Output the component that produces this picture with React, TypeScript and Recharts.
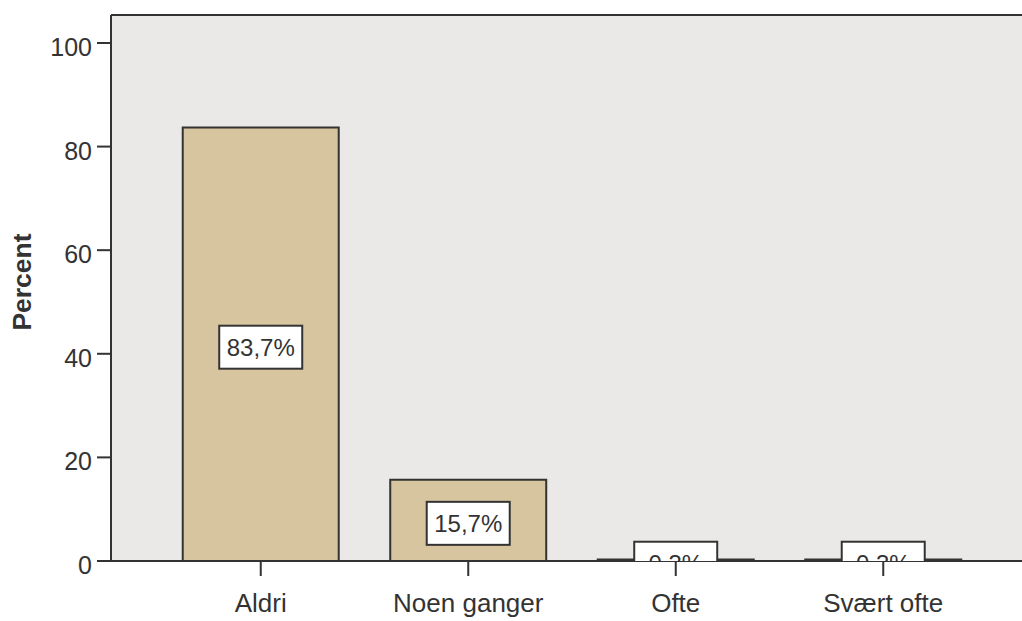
import { BarChart, Bar, XAxis, YAxis, CartesianGrid, ReferenceLine, LabelList } from 'recharts';

const categories = ['Aldri', 'Noen ganger', 'Ofte', 'Svært ofte'];
const percents = [83.7, 15.7, 0.3, 0.3];
const yTicks = [0, 20, 40, 60, 80, 100];
const yMax = 105.4;

const data = categories.map((name, i) => ({ name, percent: percents[i] }));

const INK = '#333333';
const FONT = '"Liberation Sans", Arial, Helvetica, sans-serif';

const YTick = ({ x, y, payload }: any) => (
  <text x={x} y={y + 4} textAnchor="end" dominantBaseline="central" fontSize={25} fill={INK} fontFamily={FONT}>
    {payload.value}
  </text>
);

const XTick = ({ x, y, payload }: any) => (
  <text x={x} y={y} dy="0.71em" textAnchor="middle" fontSize={26} fill={INK} fontFamily={FONT}>
    {payload.value}
  </text>
);

const PercentLabel = ({ viewBox }: any) => {
  const cx = viewBox.x + 22;
  const cy = viewBox.y + viewBox.height / 2 - 6;
  return (
    <text
      x={cx}
      y={cy}
      transform={`rotate(-90, ${cx}, ${cy})`}
      textAnchor="middle"
      dominantBaseline="central"
      fontSize={26.5}
      fontWeight="bold"
      fill={INK}
      fontFamily={FONT}
    >
      Percent
    </text>
  );
};

// boxed value label in the middle of the bar, clipped at the baseline
const BoxLabel = (props: any) => {
  const { x, y, width, height, value, index } = props;
  const cx = x + width / 2;
  const cy = y + height / 2 + 3;
  const base = y + height;
  const id = `lbl-clip-${index}`;
  const w = 83;
  const h = 43;
  return (
    <g>
      <defs>
        <clipPath id={id}>
          <rect x={cx - 100} y={base - 1000} width={200} height={1000} />
        </clipPath>
      </defs>
      <g clipPath={`url(#${id})`}>
        <rect x={cx - w / 2} y={cy - h / 2} width={w} height={h} fill="#ffffff" stroke={INK} strokeWidth={2} />
        <text x={cx} y={cy} textAnchor="middle" dominantBaseline="central" fontSize={24} fill={INK} fontFamily={FONT}>
          {`${Number(value).toFixed(1).replace('.', ',')}%`}
        </text>
      </g>
    </g>
  );
};

export default function App() {
  return (
    <div style={{ position: 'absolute', left: 0, top: 0, width: 1022, height: 621, overflow: 'hidden', background: '#fff' }}>
      <BarChart
        width={1022}
        height={621}
        data={data}
        margin={{ top: 15, right: 0, left: 0, bottom: 0 }}
        barCategoryGap="12.4%"
      >
        <CartesianGrid fill="#EAE9E7" horizontal={false} vertical={false} />
        <XAxis
          dataKey="name"
          height={60}
          padding={{ left: 46, right: 35 }}
          tickSize={15}
          tickMargin={18}
          tick={<XTick />}
          axisLine={{ stroke: INK, strokeWidth: 2 }}
          tickLine={{ stroke: INK, strokeWidth: 2 }}
        />
        <YAxis
          width={111}
          domain={[0, yMax]}
          ticks={yTicks}
          tickSize={14}
          tickMargin={5}
          tick={<YTick />}
          axisLine={{ stroke: INK, strokeWidth: 2 }}
          tickLine={{ stroke: INK, strokeWidth: 2 }}
          label={<PercentLabel />}
        />
        <ReferenceLine y={yMax} stroke={INK} strokeWidth={2} />
        <Bar dataKey="percent" fill="#D6C59F" stroke={INK} strokeWidth={2} isAnimationActive={false}>
          <LabelList dataKey="percent" content={<BoxLabel />} />
        </Bar>
      </BarChart>
    </div>
  );
}
